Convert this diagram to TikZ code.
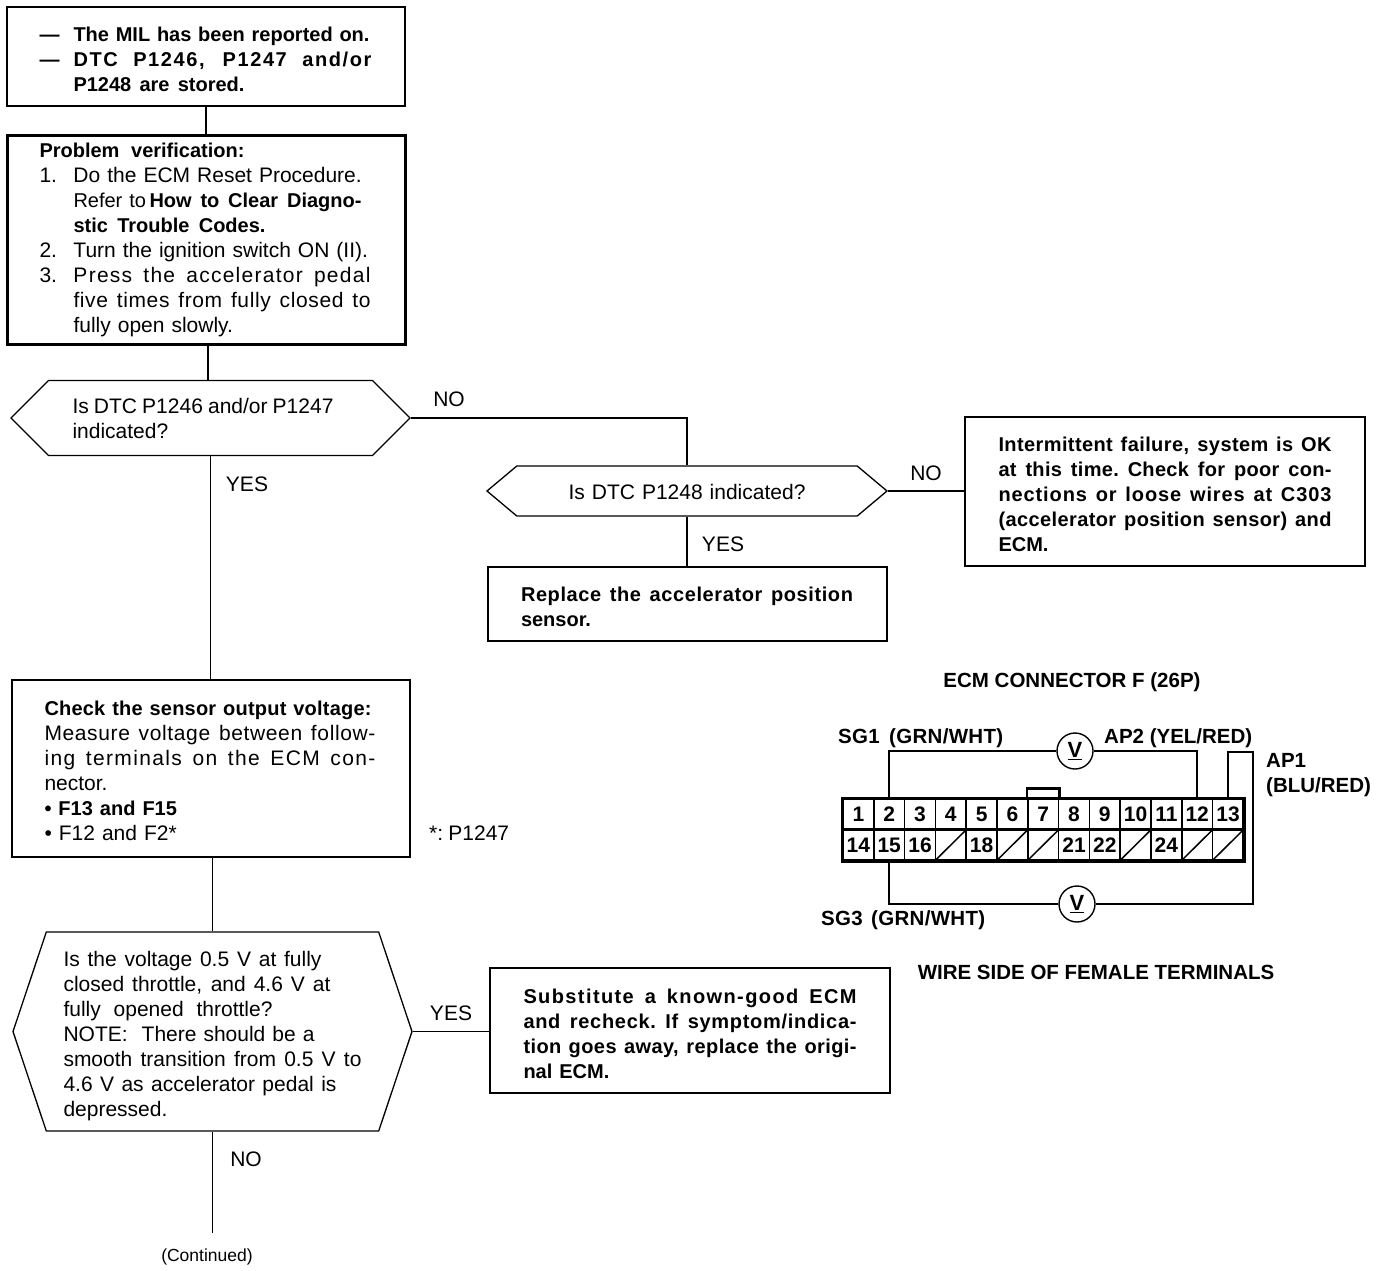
\documentclass[tikz,border=0pt]{standalone}
\usepackage{fontspec}
\setmainfont{Liberation Sans}
\usetikzlibrary{shapes.symbols,calc}
\newcommand{\jl}[2][333pt]{\makebox[#1][s]{\spaceskip=.278em plus 1fil minus .12em\relax\xspaceskip=\spaceskip #2}}
\newcommand{\ls}[2]{{\addfontfeatures{LetterSpace=#1}#2}}
\newcommand{\ind}{\hspace*{34pt}}
\newcommand{\bfs}{\fontsize{20}{25}\selectfont\bfseries}
\newcommand{\bt}[1]{{\bfs #1}}
\newcommand{\topsp}[1]{\rule{0pt}{#1pt}}
\tikzset{
  txt/.style={font=\fontsize{21}{25}\selectfont},
  boxn/.style={draw,line width=1.3pt,rectangle,inner sep=0pt,align=left,text width=333pt,txt},
  hexn/.style={draw,line width=1.3pt,signal,signal to=west and east,inner sep=0pt,align=left,txt},
  link/.style={line width=1.3pt},
  lab/.style={inner sep=0pt,txt,anchor=base},
  blab/.style={inner sep=0pt,font=\fontsize{20.5}{25}\selectfont\bfseries,anchor=base west},
  cell/.style={draw,line width=1.5pt,minimum width=30.8pt,minimum height=30.5pt,inner sep=0pt,font=\fontsize{21}{25}\selectfont\bfseries},
  meter/.style={draw,circle,line width=1.4pt,minimum size=36pt,inner sep=0pt,font=\fontsize{22}{25}\selectfont\bfseries},
}
\begin{document}
\begin{tikzpicture}[x=1pt,y=-1pt]
\useasboundingbox (0,0) rectangle (1376,1270);
\node[boxn,minimum width=398pt,minimum height=99pt] (start) at (206,56.5) {\bfs\topsp{20.5}%
\makebox[34pt][l]{---}\jl[296pt]{The MIL has been reported on.}\\
\makebox[34pt][l]{---}\jl[298pt]{\ls{8}{DTC P1246, P1247 and/or}}\\
\ind\jl[171pt]{P1248 are stored.}};
\node[boxn,line width=3pt,minimum width=398pt,minimum height=209pt] (verify) at (206,239.5) {\bt{\jl[205pt]{Problem verification:}}\\
\makebox[34pt][l]{1.}Do the ECM Reset Procedure.\\
\ind\makebox[76pt][l]{\fontsize{20}{25}\selectfont Refer to}\bt{\jl[212pt]{How to Clear Diagno-}}\\
\ind\bt{\jl[192pt]{stic Trouble Codes.}}\\
\makebox[34pt][l]{2.}Turn the ignition switch ON (II).\\
\makebox[34pt][l]{3.}\jl[297pt]{\ls{6}{Press the accelerator pedal}}\\
\ind\jl[297pt]{\ls{3}{five times from fully closed to}}\\
\ind fully open slowly.};
\node[hexn,signal pointer angle=90,minimum width=399pt,minimum height=75pt,text width=276pt] (q1) at (210.5,418) {\jl[261pt]{Is DTC P1246 and/or P1247}\\indicated?};
\node[hexn,signal pointer angle=80,minimum width=400pt,minimum height=50pt,text width=300pt,align=center] (q2) at (687,491) {\topsp{17.5}Is DTC P1248 indicated?};
\node[boxn,minimum width=400pt,minimum height=149pt] (ok) at (1165,491.5) {\bfs\topsp{20.5}%
\jl{\ls{2}{Intermittent failure, system is OK}}\\
\jl{\ls{1.5}{at this time. Check for poor con-}}\\
\jl{\ls{4.5}{nections or loose wires at C303}}\\
\jl{\ls{2}{(accelerator position sensor) and}}\\
ECM.};
\node[boxn,minimum width=399pt,minimum height=74pt] (replace) at (687.5,604) {\bfs\topsp{19.5}%
\jl[332pt]{\ls{3}{Replace the accelerator position}}\\
sensor.};
\node[boxn,minimum width=398pt,minimum height=177pt] (check) at (211,768.5) {\topsp{19.5}\bt{\jl[327pt]{\ls{1}{Check the sensor output voltage:}}}\\
\jl[331pt]{\ls{3}{Measure voltage between follow-}}\\
\jl[331pt]{\ls{6.5}{ing terminals on the ECM con-}}\\
nector.\\
\bt{• F13 and F15}\\
• F12 and F2*};
\node[hexn,signal pointer angle=143,minimum width=399pt,minimum height=199pt,text width=298pt] (q3) at (212.5,1031.5) {\topsp{24.5}\jl[258pt]{Is the voltage 0.5 V at fully}\\
\jl[267pt]{closed throttle, and 4.6 V at}\\
\jl[209pt]{fully opened throttle?}\\
\jl[251pt]{NOTE:\ \ There should be a}\\
\jl[298pt]{smooth transition from 0.5 V to}\\
\jl[273pt]{4.6 V as accelerator pedal is}\\
depressed.};
\node[boxn,minimum width=400pt,minimum height=125pt] (sub) at (690,1030.5) {\bfs\topsp{21.5}%
\jl{\ls{7}{Substitute a known-good ECM}}\\
\jl{\ls{3.5}{and recheck. If symptom/indica-}}\\
\jl{\ls{2}{tion goes away, replace the origi-}}\\
nal ECM.};
\coordinate (cont) at (213,1233);
\coordinate (vx) at (208,0);
\draw[link] (start) -- (verify);
\draw[link] (verify.south -| vx) -- (q1.north -| vx);
\draw[link] (q1.south) -- (check.north -| q1.south);
\draw[link] (check.south -| q3.north) -- (q3.north);
\draw[link] (q3.south) -- (cont -| q3.south);
\draw[link] (q1.east) -| (q2.north);
\draw[link] (q2.east) -- (q2.east -| ok.west);
\draw[link] (q2.south) -- (replace.north -| q2.south);
\draw[link] (q3.east) -- (q3.east -| sub.west);
\node[lab] (l1) at (449,406) {NO};
\node[lab] (l2) at (247,491) {YES};
\node[lab] (l3) at (926,480) {NO};
\node[lab] (l4) at (723,551) {YES};
\node[lab] (l5) at (451,1020) {YES};
\node[lab] (l6) at (246,1166) {NO};
\node[lab,anchor=base west] (star) at (429,840) {\jl[80pt]{*: P1247}};
\node[inner sep=0pt,font=\fontsize{17.5}{20}\selectfont,anchor=base] (contl) at (207,1261) {(Continued)};
% connector
\foreach \i in {1,...,13}{
  \node[cell] (t\i) at ({843+30.8*(\i-0.5)},814.5) {\i};
}
\foreach \i/\t in {1/14,2/15,3/16,4/,5/18,6/,7/,8/21,9/22,10/,11/24,12/,13/}{
  \node[cell] (b\i) at ({843+30.8*(\i-0.5)},845) {\t};
}
\foreach \i in {4,6,7,10,12,13}{
  \draw[line width=1.5pt] (b\i.south west) -- (b\i.north east);
}
\draw[line width=3.5pt] (t1.north west) -- (t13.north east) -- (b13.south east) -- (b1.south west) -- cycle;
\draw[line width=2.5pt] (b1.north west) -- (b13.north east);
\draw[line width=2.5pt] (t7.north west) -- ++(0,-10) -- ($(t7.north east)+(0,-10)$) -- (t7.north east);
\node[meter] (m1) at (1075,751) {\underline{V}};
\node[meter] (m2) at (1077,904) {\underline{V}};
\coordinate (ap1a) at (1227,752);
\coordinate (ap1b) at (1253,752);
\coordinate (ap1c) at (1253,904);
\draw[line width=1.5pt] (t2.north) |- (m1.west);
\draw[line width=1.5pt] (m1.east) -| (t12.north);
\draw[line width=1.5pt] (t13.north) -- (t13.north |- ap1a) -- (ap1b) -- (ap1c) -- (m2.east);
\draw[line width=1.5pt] (m2.west) -| (b2.south);
\node[blab,anchor=base] (h1) at (1072,687) {ECM CONNECTOR F (26P)};
\node[blab] (sg1) at (838,743) {\jl[165pt]{\ls{1.5}{SG1 (GRN/WHT)}}};
\node[blab] (ap2) at (1104,743) {AP2 (YEL/RED)};
\node[blab] (ap1) at (1266,767) {AP1};
\node[blab] (blu) at (1266,792) {(BLU/RED)};
\node[blab] (sg3) at (821,925) {\jl[164pt]{\ls{1.5}{SG3 (GRN/WHT)}}};
\node[blab,anchor=base] (h2) at (1096,979) {WIRE SIDE OF FEMALE TERMINALS};
\end{tikzpicture}
\end{document}
